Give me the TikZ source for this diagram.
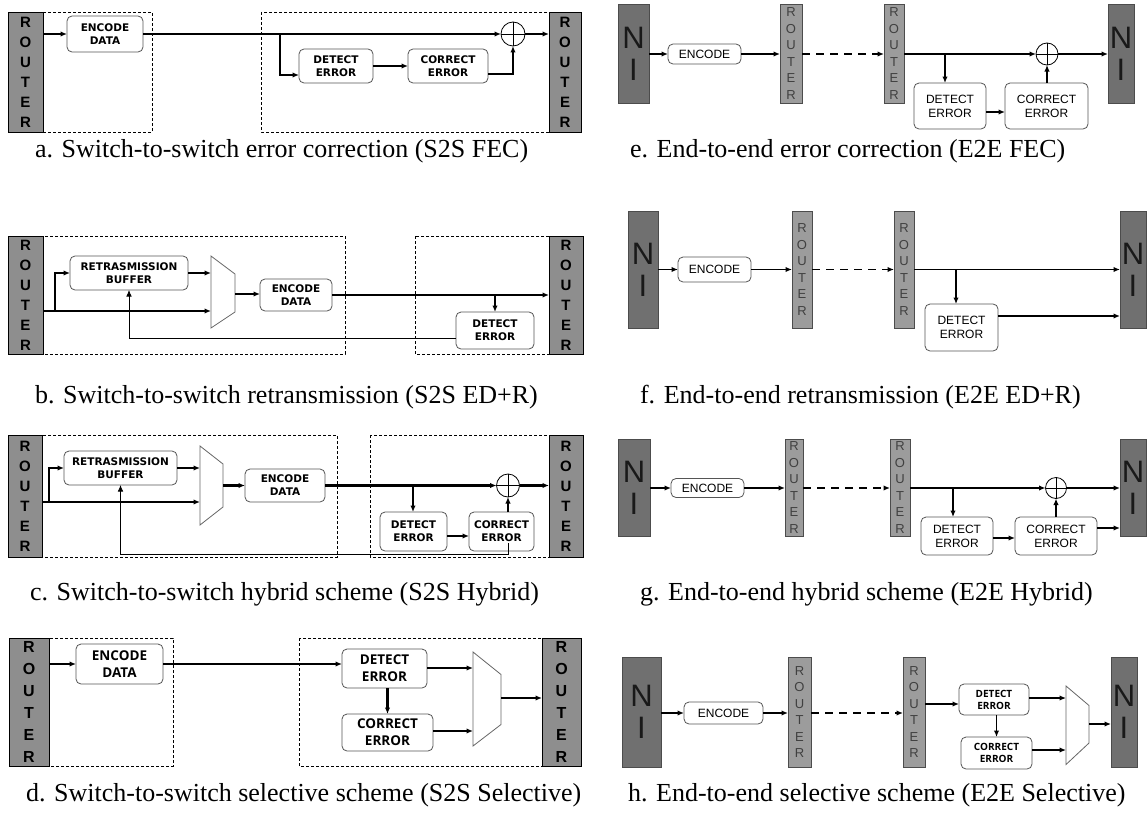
\documentclass[tikz,border=0pt]{standalone}
\usepackage{fontspec}
\setmainfont{Liberation Serif}
\newfontfamily\arialf{Liberation Sans}
\newfontfamily\verdf{DejaVu Sans}
\newfontfamily\osf{Open Sans}
\usetikzlibrary{arrows.meta}
\definecolor{rtrS}{HTML}{8E8E8E}
\definecolor{rtrE}{HTML}{9C9C9C}
\definecolor{niF}{HTML}{707070}
\definecolor{bxD}{HTML}{555555}
\tikzset{
 every node/.style={inner sep=0pt, outer sep=0pt},
 ln/.style={line width=2.1pt},
 lnE/.style={line width=1.6pt},
 tl/.style={line width=0.7pt},
 arr/.style={-{Latex[length=6.5pt,width=5.5pt]}},
 dbox/.style={line width=0.6pt, dash pattern=on 3pt off 2pt},
 dline/.style={line width=1.8pt, dash pattern=on 8pt off 6pt},
 rS/.style={draw=black, line width=0.8pt, fill=rtrS, anchor=north west, align=center, font=\arialf\bfseries\fontsize{15}{20}\selectfont},
 rD/.style={rS, font=\arialf\bfseries\fontsize{16}{22}\selectfont},
 rE/.style={draw=black!70, line width=0.8pt, fill=rtrE, anchor=north west, align=center, text=black!75, font=\arialf\fontsize{13}{16.5}\selectfont},
 ni/.style={draw=black!70, line width=0.8pt, fill=niF, anchor=north west, align=center, text=black!90, font=\arialf\fontsize{31}{32}\selectfont},
 bx/.style={draw=bxD, line width=0.8pt, rounded corners=5pt, fill=white, anchor=north west, align=center},
 fS/.style={font=\verdf\bfseries\fontsize{10.5}{13}\selectfont},
 fD/.style={font=\osf\bfseries\fontsize{13.5}{17}\selectfont},
 fE/.style={font=\arialf\fontsize{12}{14}\selectfont},
 fH/.style={font=\osf\bfseries\fontsize{10}{12}\selectfont},
 xor/.style={circle, draw=black, line width=0.8pt, fill=white, minimum size=#1,
   path picture={\draw[line width=0.8pt] (path picture bounding box.north) -- (path picture bounding box.south) (path picture bounding box.west) -- (path picture bounding box.east);}},
 mux/.style={draw=black!60, line width=0.8pt, fill=white},
 capt/.style={anchor=base west, font=\fontsize{26}{30}\selectfont}
}
\begin{document}
\begin{tikzpicture}[x=1pt,y=-1pt]
\useasboundingbox[fill=white] (0,0) rectangle (1147,816);

% ---------- panel a ----------
\draw[dbox] (43,12) rectangle (152,132);
\draw[dbox] (261,12) rectangle (549,132);
\node[rS, minimum width=35pt, minimum height=120pt] (aL) at (8,12) {R\\O\\U\\T\\E\\R};
\node[rS, minimum width=32pt, minimum height=120pt] (aR) at (549,12) {R\\O\\U\\T\\E\\R};
\node[bx, fS, minimum width=76pt, minimum height=36pt] (aEnc) at (67,16) {ENCODE\\DATA};
\node[bx, fS, minimum width=74pt, minimum height=34pt] (aDet) at (299,49) {DETECT\\ERROR};
\node[bx, fS, minimum width=80pt, minimum height=34pt] (aCor) at (408,49) {CORRECT\\ERROR};
\node[xor=24pt] (aX) at (513,34) {};
\coordinate (aB) at (280,34);
\draw[ln,arr] (aL.east |- aEnc) -- (aEnc.west);
\draw[ln,arr] (aEnc.east) -- (aX.west);
\draw[ln,arr] (aX.east) -- (aR.west |- aX);
\draw[ln,arr] (aB) |- (aDet.west |- 0,75);
\draw[ln,arr] (aDet.east) -- (aCor.west);
\draw[ln,arr] (aCor.east |- 0,74) -| (aX.south);
\node[capt] (aCap) at (35,157) {a. Switch-to-switch error correction (S2S FEC)};

% ---------- panel e ----------
\node[ni, minimum width=31pt, minimum height=99pt] (eNL) at (618,4) {N\\I};
\node[bx, fE, minimum width=73pt, minimum height=20pt] (eEnc) at (668,44) {ENCODE};
\node[rE, minimum width=22pt, minimum height=99pt] (eR1) at (780,4) {R\\O\\U\\T\\E\\R};
\node[rE, minimum width=20pt, minimum height=99pt] (eR2) at (884,4) {R\\O\\U\\T\\E\\R};
\node[bx, fE, minimum width=72pt, minimum height=46pt] (eDet) at (914,83) {DETECT\\ERROR};
\node[bx, fE, minimum width=83pt, minimum height=46pt] (eCor) at (1005,83) {CORRECT\\ERROR};
\node[xor=22pt] (eX) at (1047,54) {};
\node[ni, minimum width=26pt, minimum height=99pt] (eNR) at (1108,4) {N\\I};
\coordinate (eB) at (945,54);
\draw[lnE,arr] (eNL.east |- eEnc) -- (eEnc.west);
\draw[lnE,arr] (eEnc.east) -- (eR1.west |- eEnc);
\draw[dline,arr] (eR1.east |- eEnc) -- (eR2.west |- eEnc);
\draw[lnE,arr] (eR2.east |- eEnc) -- (eX.west);
\draw[lnE,arr] (eX.east) -- (eNR.west |- eX);
\draw[lnE,arr] (eB) -- (eB |- eDet.north);
\draw[ln,arr] (eDet.east |- 0,112) -- (eCor.west |- 0,112);
\draw[lnE,arr] (eX |- eCor.north) -- (eX.south);
\node[capt] (eCap) at (630,157) {e. End-to-end error correction (E2E FEC)};

% ---------- panel b ----------
\draw[dbox] (43,236) rectangle (345,354);
\draw[dbox] (415,236) rectangle (549,354);
\node[rS, minimum width=35pt, minimum height=118pt] (bL) at (8,236) {R\\O\\U\\T\\E\\R};
\node[rS, minimum width=34pt, minimum height=118pt] (bR) at (549,236) {R\\O\\U\\T\\E\\R};
\node[bx, fS, minimum width=118pt, minimum height=34pt] (bBuf) at (70,256) {RETRASMISSION\\BUFFER};
\draw[mux] (211,256) -- (235,274) -- (235,312) -- (211,328) -- cycle;
\coordinate (bMi1) at (211,273);
\coordinate (bMi2) at (211,311);
\coordinate (bMo) at (235,294);
\node[bx, fS, minimum width=72pt, minimum height=32pt] (bEnc) at (260,279) {ENCODE\\DATA};
\node[bx, fS, minimum width=78pt, minimum height=37pt] (bDet) at (456,312) {DETECT\\ERROR};
\coordinate (bB1) at (55,311);
\coordinate (bB2) at (495,295);
\draw[ln,arr] (bL.east |- bMi2) -- (bMi2);
\draw[ln,arr] (bB1) |- (bBuf.west);
\draw[ln,arr] (bBuf.east) -- (bMi1);
\draw[ln,arr] (bMo) -- (bMo -| bEnc.west);
\draw[ln,arr] (bEnc.east) -- (bR.west |- bEnc);
\draw[ln,arr] (bB2) -- (bDet.north);
\draw[tl,arr] (bDet.west |- 0,338) -| (bBuf.south);
\node[capt] (bCap) at (35,403) {b. Switch-to-switch retransmission (S2S ED+R)};

% ---------- panel f ----------
\node[ni, minimum width=30pt, minimum height=117pt] (fNL) at (628,211) {N\\I};
\node[bx, fE, minimum width=73pt, minimum height=25pt] (fEnc) at (678,257) {ENCODE};
\node[rE, minimum width=20pt, minimum height=117pt] (fR1) at (792,211) {R\\O\\U\\T\\E\\R};
\node[rE, minimum width=20pt, minimum height=117pt] (fR2) at (894,211) {R\\O\\U\\T\\E\\R};
\node[bx, fE, minimum width=73pt, minimum height=47pt] (fDet) at (925,304) {DETECT\\ERROR};
\node[ni, minimum width=26pt, minimum height=117pt] (fNR) at (1120,211) {N\\I};
\coordinate (fB) at (956,269.5);
\draw[lnE,arr] (fNL.east |- fEnc) -- (fEnc.west);
\draw[lnE,arr] (fEnc.east) -- (fR1.west |- fEnc);
\draw[dline,arr] (fR1.east |- fEnc) -- (fR2.west |- fEnc);
\draw[lnE,arr] (fR2.east |- fEnc) -- (fNR.west |- fEnc);
\draw[lnE,arr] (fB) -- (fB |- fDet.north);
\draw[lnE,arr] (fDet.east |- 0,316) -- (fNR.west |- 0,316);
\node[capt] (fCap) at (640,403) {f. End-to-end retransmission (E2E ED+R)};

% ---------- panel c ----------
\draw[dbox] (42,435) rectangle (337,557);
\draw[dbox] (370,435) rectangle (549,557);
\node[rS, minimum width=34pt, minimum height=122pt] (cL) at (8,435) {R\\O\\U\\T\\E\\R};
\node[rS, minimum width=34pt, minimum height=122pt] (cR) at (549,435) {R\\O\\U\\T\\E\\R};
\node[bx, fS, minimum width=113pt, minimum height=34pt] (cBuf) at (64,451) {RETRASMISSION\\BUFFER};
\draw[mux] (200,446) -- (223,464) -- (223,507) -- (200,525) -- cycle;
\coordinate (cMi1) at (200,468);
\coordinate (cMi2) at (200,502);
\coordinate (cMo) at (223,485.5);
\node[bx, fS, minimum width=80pt, minimum height=33pt] (cEnc) at (245,469) {ENCODE\\DATA};
\node[bx, fS, minimum width=67pt, minimum height=39pt] (cDet) at (380,512) {DETECT\\ERROR};
\node[bx, fS, minimum width=65pt, minimum height=39pt] (cCor) at (469,512) {CORRECT\\ERROR};
\node[xor=23pt] (cX) at (508,485.5) {};
\coordinate (cB1) at (49,502);
\coordinate (cB2) at (413,485.5);
\draw[ln,arr] (cL.east |- cMi2) -- (cMi2);
\draw[ln,arr] (cB1) |- (cBuf.west);
\draw[ln,arr] (cBuf.east) -- (cMi1);
\draw[ln,arr] (cMo) -- (cEnc.west);
\draw[ln,arr] (cEnc.east) -- (cX.west);
\draw[ln,arr] (cX.east) -- (cR.west |- cX);
\draw[ln,arr] (cB2) -- (cB2 |- cDet.north);
\draw[ln,arr] (cDet.east |- 0,536) -- (cCor.west |- 0,536);
\draw[ln,arr] (cX |- cCor.north) -- (cX.south);
\draw[tl,arr] (cX |- 0,543) -- (cX |- 0,554) -| (cBuf.south);
\node[capt] (cCap) at (30,600) {c. Switch-to-switch hybrid scheme (S2S Hybrid)};

% ---------- panel g ----------
\node[ni, minimum width=32pt, minimum height=97pt] (gNL) at (618,439) {N\\I};
\node[bx, fE, minimum width=73pt, minimum height=19pt] (gEnc) at (671,478.5) {ENCODE};
\node[rE, minimum width=18pt, minimum height=97pt] (gR1) at (785,439) {R\\O\\U\\T\\E\\R};
\node[rE, minimum width=20pt, minimum height=97pt] (gR2) at (890,439) {R\\O\\U\\T\\E\\R};
\node[bx, fE, minimum width=72pt, minimum height=38pt] (gDet) at (921,517) {DETECT\\ERROR};
\node[bx, fE, minimum width=82pt, minimum height=38pt] (gCor) at (1015,517) {CORRECT\\ERROR};
\node[xor=21pt] (gX) at (1056,488) {};
\node[ni, minimum width=26pt, minimum height=97pt] (gNR) at (1120,439) {N\\I};
\coordinate (gB) at (953,488);
\draw[lnE,arr] (gNL.east |- gEnc) -- (gEnc.west);
\draw[lnE,arr] (gEnc.east) -- (gR1.west |- gEnc);
\draw[dline,arr] (gR1.east |- gEnc) -- (gR2.west |- gEnc);
\draw[lnE,arr] (gR2.east |- gEnc) -- (gX.west);
\draw[lnE,arr] (gX.east) -- (gNR.west |- gX);
\draw[lnE,arr] (gB) -- (gB |- gDet.north);
\draw[ln,arr] (gDet.east |- 0,538) -- (gCor.west |- 0,538);
\draw[lnE,arr] (gCor.north) -- (gX.south);
\draw[ln,arr] (gCor.east |- 0,528) -- (gNR.west |- 0,528);
\node[capt] (gCap) at (640,600) {g. End-to-end hybrid scheme (E2E Hybrid)};

% ---------- panel d ----------
\draw[dbox] (49,638) rectangle (173,766);
\draw[dbox] (299,638) rectangle (542,766);
\node[rD, minimum width=40pt, minimum height=128pt] (dL) at (9,638) {R\\O\\U\\T\\E\\R};
\node[rD, minimum width=39pt, minimum height=128pt] (dR) at (542,638) {R\\O\\U\\T\\E\\R};
\node[bx, fD, minimum width=87pt, minimum height=40pt] (dEnc) at (76,644) {ENCODE\\DATA};
\node[bx, fD, minimum width=85pt, minimum height=39pt] (dDet) at (342,649) {DETECT\\ERROR};
\node[bx, fD, minimum width=91pt, minimum height=37pt] (dCor) at (342,714) {CORRECT\\ERROR};
\draw[mux] (473,652) -- (501,674.5) -- (501,724.5) -- (473,746) -- cycle;
\coordinate (dMi1) at (473,668);
\coordinate (dMi2) at (473,731);
\coordinate (dMo) at (501,698);
\draw[ln,arr] (dL.east |- dEnc) -- (dEnc.west);
\draw[ln,arr] (dEnc.east) -- (dDet.west |- dEnc);
\draw[ln,arr] (dCor.north |- dDet.south) -- (dCor.north);
\draw[ln,arr] (dDet.east |- dMi1) -- (dMi1);
\draw[ln,arr] (dCor.east |- dMi2) -- (dMi2);
\draw[ln,arr] (dMo) -- (dR.west |- dMo);
\node[capt] (dCap) at (26,801) {d. Switch-to-switch selective scheme (S2S Selective)};

% ---------- panel h ----------
\node[ni, minimum width=39pt, minimum height=110pt] (hNL) at (622,657) {N\\I};
\node[bx, fE, minimum width=79pt, minimum height=22pt] (hEnc) at (684,702) {ENCODE};
\node[rE, minimum width=23pt, minimum height=110pt] (hR1) at (788,657) {R\\O\\U\\T\\E\\R};
\node[rE, minimum width=22pt, minimum height=110pt] (hR2) at (903,657) {R\\O\\U\\T\\E\\R};
\node[bx, fH, minimum width=70pt, minimum height=31pt] (hDet) at (959,684) {DETECT\\ERROR};
\node[bx, fH, minimum width=71pt, minimum height=32pt] (hCor) at (961,737) {CORRECT\\ERROR};
\draw[mux] (1066,686) -- (1089,705.5) -- (1089,743) -- (1066,764.5) -- cycle;
\coordinate (hMi1) at (1066,698);
\coordinate (hMi2) at (1066,750);
\coordinate (hMo) at (1089,724);
\node[ni, minimum width=26pt, minimum height=110pt] (hNR) at (1111,657) {N\\I};
\draw[lnE,arr] (hNL.east |- hEnc) -- (hEnc.west);
\draw[lnE,arr] (hEnc.east) -- (hR1.west |- hEnc);
\draw[dline,arr] (hR1.east |- hEnc) -- (hR2.west |- hEnc);
\draw[lnE,arr] (hR2.east |- 0,704) -- (hDet.west |- 0,704);
\draw[lnE,arr] (hCor.north |- hDet.south) -- (hCor.north);
\draw[lnE,arr] (hDet.east |- hMi1) -- (hMi1);
\draw[lnE,arr] (hCor.east |- hMi2) -- (hMi2);
\draw[lnE,arr] (hMo) -- (hNR.west |- hMo);
\node[capt] (hCap) at (628,801) {h. End-to-end selective scheme (E2E Selective)};
\end{tikzpicture}
\end{document}
